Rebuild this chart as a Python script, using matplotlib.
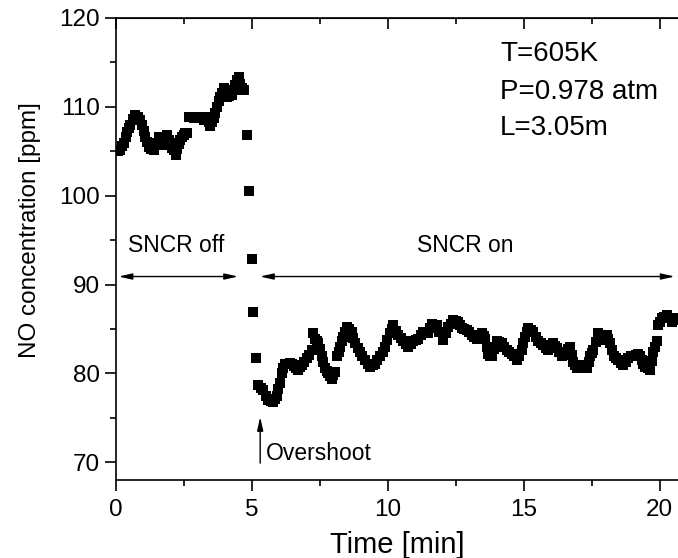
#!/usr/bin/env python3
# NO concentration before / after switching SNCR on
import matplotlib
matplotlib.use('Agg')
import matplotlib.pyplot as plt
from matplotlib.ticker import MultipleLocator

plt.rcParams['font.family'] = ['Liberation Sans', 'DejaVu Sans']

# Time [min] and NO [ppm]
time_min = [
    0.10, 0.17, 0.23, 0.29, 0.36, 0.42, 0.48, 0.54, 0.63, 0.72, 0.81, 0.90,
    0.97, 1.03, 1.09, 1.15, 1.21, 1.30, 1.40, 1.49, 1.58, 1.64, 1.70, 1.80,
    1.89, 1.95, 2.01, 2.07, 2.13, 2.20, 2.25, 2.32, 2.38, 2.44, 2.50, 2.56,
    2.62, 2.68, 2.78, 2.87, 2.96, 3.05, 3.15, 3.24, 3.30, 3.36, 3.42, 3.48,
    3.54, 3.60, 3.66, 3.72, 3.78, 3.85, 3.91, 3.97, 4.03, 4.09, 4.18, 4.28,
    4.34, 4.40, 4.46, 4.52, 4.58, 4.65, 4.71, 4.83, 4.90, 5.00, 5.06, 5.14,
    5.24, 5.33, 5.43, 5.52, 5.61, 5.70, 5.79, 5.86, 5.92, 5.98, 6.04, 6.10,
    6.16, 6.22, 6.30, 6.39, 6.47, 6.55, 6.63, 6.71, 6.78, 6.84, 6.93, 7.02,
    7.12, 7.21, 7.26, 7.33, 7.39, 7.45, 7.51, 7.57, 7.63, 7.70, 7.76, 7.82,
    7.88, 7.94, 8.00, 8.06, 8.13, 8.19, 8.25, 8.31, 8.37, 8.43, 8.49, 8.58,
    8.68, 8.74, 8.80, 8.89, 8.98, 9.07, 9.17, 9.26, 9.35, 9.44, 9.53, 9.62,
    9.72, 9.81, 9.90, 9.99, 10.08, 10.15, 10.21, 10.30, 10.39, 10.48, 10.57,
    10.66, 10.76, 10.85, 10.94, 11.03, 11.13, 11.22, 11.31, 11.40, 11.49,
    11.56, 11.62, 11.71, 11.80, 11.90, 12.04, 12.13, 12.23, 12.32, 12.41,
    12.50, 12.60, 12.66, 12.72, 12.81, 12.90, 13.00, 13.09, 13.18, 13.27,
    13.37, 13.46, 13.52, 13.58, 13.64, 13.70, 13.76, 13.82, 13.92, 14.01,
    14.10, 14.19, 14.29, 14.38, 14.47, 14.56, 14.65, 14.74, 14.83, 14.93,
    14.99, 15.05, 15.11, 15.17, 15.26, 15.35, 15.45, 15.54, 15.63, 15.72,
    15.81, 15.90, 16.00, 16.09, 16.15, 16.21, 16.31, 16.40, 16.49, 16.58,
    16.64, 16.70, 16.76, 16.82, 16.89, 16.95, 17.04, 17.13, 17.22, 17.32,
    17.38, 17.44, 17.50, 17.56, 17.65, 17.74, 17.81, 17.87, 17.96, 18.05,
    18.11, 18.17, 18.24, 18.30, 18.39, 18.48, 18.57, 18.66, 18.75, 18.85,
    18.94, 19.03, 19.12, 19.21, 19.28, 19.34, 19.40, 19.46, 19.55, 19.64,
    19.70, 19.76, 19.82, 19.89, 19.95, 20.01, 20.07, 20.16, 20.26, 20.35,
    20.44, 20.50, 20.56, 20.64,
]
no_ppm = [
    105.0, 105.1, 105.6, 105.9, 106.6, 107.2, 107.6, 108.0, 108.6, 109.1, 108.9, 108.5,
    108.0, 107.3, 106.6, 106.0, 105.5, 105.2, 105.1, 105.9, 106.6, 106.2, 105.7, 106.3,
    106.8, 106.3, 105.9, 105.4, 105.1, 104.6, 105.3, 105.8, 106.3, 106.6, 106.8, 107.0,
    107.0, 108.9, 108.8, 108.7, 108.8, 108.9, 108.7, 108.5, 108.7, 108.9, 108.3, 107.8,
    108.3, 108.7, 109.3, 110.0, 110.6, 111.1, 111.6, 112.1, 111.6, 111.1, 111.2, 111.3,
    111.9, 112.5, 113.0, 113.4, 112.6, 112.1, 111.9, 106.8, 100.5, 92.9, 86.9, 81.7,
    78.7, 78.4, 78.1, 77.5, 77.0, 76.9, 76.8, 77.1, 77.5, 78.2, 78.9, 80.0,
    80.6, 81.1, 81.1, 81.2, 81.1, 80.8, 80.6, 80.4, 80.7, 80.9, 81.3, 81.7,
    82.1, 82.6, 84.5, 83.9, 83.6, 83.4, 82.7, 82.0, 81.3, 80.6, 80.3, 80.0,
    79.7, 79.4, 79.8, 80.2, 81.9, 82.4, 83.0, 83.6, 84.1, 84.6, 85.2, 85.0,
    84.7, 84.0, 83.4, 82.9, 82.4, 81.9, 81.5, 81.1, 80.7, 80.9, 81.1, 81.5,
    81.9, 82.4, 83.0, 83.8, 84.5, 85.0, 85.4, 84.8, 84.3, 84.0, 83.6,
    83.3, 83.0, 83.3, 83.6, 83.8, 83.9, 84.3, 84.7, 84.6, 84.5,
    85.1, 85.6, 85.5, 85.4, 84.6, 83.7, 84.5, 85.2, 85.6, 86.0,
    85.9, 85.8, 85.4, 85.1, 85.0, 84.9, 84.6, 84.3, 84.1, 83.9,
    84.2, 84.5, 84.2, 83.9, 83.0, 82.2, 82.0, 81.9, 82.7, 83.6,
    83.5, 83.4, 83.0, 82.6, 82.4, 82.2, 81.9, 81.5, 82.0, 82.6,
    83.4, 84.1, 84.6, 85.1, 84.9, 84.7, 84.1, 83.6, 83.4, 83.2,
    82.9, 82.6, 83.0, 83.4, 83.1, 82.8, 82.4, 82.0, 82.2, 82.4,
    82.7, 83.0, 82.1, 81.3, 80.9, 80.6, 80.7, 80.9, 80.7, 80.6,
    81.3, 82.0, 82.3, 82.6, 83.5, 84.5, 84.1, 83.7, 84.0, 84.3,
    83.9, 83.4, 82.6, 81.9, 81.7, 81.5, 81.2, 80.9, 81.3, 81.7,
    81.9, 82.0, 82.1, 82.2, 81.9, 81.5, 81.1, 80.7, 80.6, 80.4,
    81.4, 82.4, 83.0, 83.6, 85.4, 85.8, 86.2, 86.4, 86.6, 86.2,
    85.8, 86.0, 86.2, 86.0,
]

conditions = ["T=605K", "P=0.978 atm", "L=3.05m"]


def graph(output="out.png"):
    fig = plt.figure(figsize=(6.78, 5.58), dpi=100)
    # right edge of the axes is cut off by the figure, as in the original
    ax = fig.add_axes([0.1707, 0.1398, 0.8293, 0.828])
    ax.plot(time_min, no_ppm, 's', color='black', markersize=6.8, markeredgewidth=0)

    ax.set_xlim(0, 20.67)
    ax.set_ylim(68, 120)
    ax.xaxis.set_major_locator(MultipleLocator(5))
    ax.xaxis.set_minor_locator(MultipleLocator(2.5))
    ax.yaxis.set_major_locator(MultipleLocator(10))
    ax.yaxis.set_minor_locator(MultipleLocator(5))
    ax.tick_params(which='major', direction='out', length=8, width=1.2, labelsize=17.5)
    ax.tick_params(which='minor', direction='out', length=4, width=1.2)
    ax.tick_params(axis='x', which='major', pad=6)
    ax.spines['right'].set_visible(False)
    for side in ('left', 'bottom', 'top'):
        ax.spines[side].set_linewidth(1.2)

    # top axis: inward ticks only
    top = ax.secondary_xaxis('top')
    top.xaxis.set_major_locator(MultipleLocator(5))
    top.xaxis.set_minor_locator(MultipleLocator(2.5))
    top.tick_params(which='major', direction='in', length=8, width=1.2, labeltop=False)
    top.tick_params(which='minor', direction='in', length=4, width=1.2)

    ax.set_xlabel("Time [min]", fontsize=21, labelpad=7)
    ax.set_ylabel("NO concentration [ppm]", fontsize=17.5)
    ax.yaxis.set_label_coords(-0.133, 0.54)

    arrow = dict(arrowstyle='<|-|>,head_length=0.8,head_width=0.18', color='black',
                 lw=1, shrinkA=0, shrinkB=0)
    ax.annotate('', xy=(0.1, 90.9), xytext=(4.5, 90.9), arrowprops=arrow)
    ax.annotate('', xy=(5.3, 90.9), xytext=(20.55, 90.9), arrowprops=arrow)
    ax.text(0.45, 94.4, "SNCR off", fontsize=16.5, va='center', ha='left')
    ax.text(12.85, 94.4, "SNCR on", fontsize=16.5, va='center', ha='center')

    ax.annotate('', xy=(5.31, 75.1), xytext=(5.31, 69.9),
                arrowprops=dict(arrowstyle='-|>,head_length=0.8,head_width=0.18',
                                color='black', lw=1, shrinkA=0, shrinkB=0))
    ax.text(5.51, 71.0, "Overshoot", fontsize=16.5, va='center', ha='left')

    for y, label in zip((116.0, 111.7, 107.6), conditions):
        ax.text(14.13, y, label, fontsize=20, va='center', ha='left')

    fig.savefig(output, dpi=100)
    print(f"Saved to {output}")


if __name__ == '__main__':
    graph()
